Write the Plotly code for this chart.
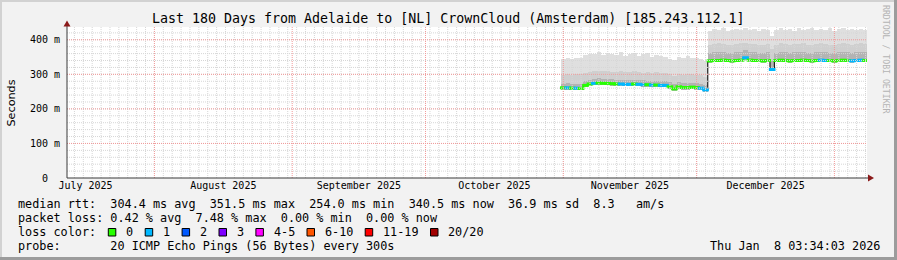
import plotly.graph_objects as go
import pandas as pd

# ---------------- data ----------------
TITLE = "Last 180 Days from Adelaide to [NL] CrownCloud (Amsterdam) [185.243.112.1]"
X_START = "2025-07-12 08:00"
X_END = "2026-01-08 08:00"
DATA_START = "2025-11-01"   # first daily sample (centre of the day bin)

median = [261, 261, 260, 260, 259, 268, 272, 274, 275, 274,
          274, 273, 272, 272, 271, 271, 272, 271, 270, 270,
          269, 269, 268, 268, 264, 258, 264, 262, 262, 263,
          262, 260, 255,
          339, 340, 340, 341, 340, 339, 340, 341, 348, 341,
          340, 340, 339, 340, 314, 340, 341, 340, 339, 340,
          340, 341, 340, 339, 340, 341, 340, 340, 339, 340,
          341, 340, 339, 340, 341, 340]

loss = [0, 1, 0, 1, 0, 0, 0, 1, 0, 0,
        0, 0, 0, 1, 1, 1, 0, 1, 1, 0,
        1, 0, 1, 1, 0, 0, 0, 0, 0, 0,
        0, 1, 1,
        0, 0, 0, 0, 0, 0, 0, 0, 1, 0,
        0, 0, 0, 0, 1, 0, 0, 0, 0, 0,
        0, 0, 0, 0, 0, 1, 1, 0, 0, 0,
        0, 0, 1, 1, 1, 0]

smoke_lo = [256, 255, 255, 254, 254, 262, 266, 268, 269, 268,
            268, 267, 266, 266, 265, 265, 266, 265, 264, 264,
            263, 263, 262, 262, 258, 252, 258, 256, 256, 257,
            256, 254, 249,
            334, 335, 335, 336, 335, 334, 335, 336, 342, 336,
            335, 335, 334, 335, 309, 335, 336, 335, 334, 335,
            335, 336, 335, 334, 335, 336, 335, 335, 334, 335,
            336, 335, 334, 335, 336, 335]

smoke_p75 = [273, 274, 272, 272, 271, 280, 285, 287, 288, 287,
             286, 286, 285, 284, 284, 283, 285, 284, 283, 282,
             281, 282, 280, 281, 277, 272, 277, 275, 276, 276,
             275, 273, 268,
             362, 364, 365, 366, 363, 362, 365, 366, 370, 365,
             364, 363, 362, 364, 340, 363, 366, 364, 362, 365,
             364, 366, 363, 362, 365, 366, 364, 363, 362, 365,
             366, 364, 362, 365, 366, 364]

smoke_p90 = [298, 300, 299, 301, 300, 305, 308, 310, 311, 309,
             310, 308, 307, 309, 306, 307, 309, 306, 305, 307,
             304, 306, 303, 305, 300, 296, 301, 299, 300, 302,
             299, 297, 292,
             384, 388, 390, 389, 386, 385, 388, 391, 392, 388,
             387, 385, 386, 388, 372, 386, 390, 388, 385, 389,
             387, 391, 386, 385, 389, 390, 388, 386, 385, 389,
             391, 388, 385, 389, 390, 387]

smoke_max = [344, 346, 343, 347, 348, 356, 360, 358, 364, 355,
             362, 359, 357, 365, 352, 360, 363, 354, 358, 361,
             350, 357, 353, 349, 345, 341, 350, 347, 352, 346,
             348, 345, 340,
             424, 430, 428, 433, 426, 429, 431, 427, 435, 428,
             432, 426, 430, 427, 410, 429, 434, 427, 431, 426,
             433, 428, 430, 435, 427, 431, 429, 433, 426, 430,
             434, 428, 432, 427, 431, 429]

y_ticks = [0, 100, 200, 300, 400]
y_tick_text = ["0", "100 m", "200 m", "300 m", "400 m"]
Y_MAX = 437

loss_labels = ["0", "1", "2", "3", "4-5", "6-10", "11-19", "20/20"]
loss_colors = ["#26ff00", "#00b8ff", "#0059ff", "#7e00ff", "#ff00ff", "#ff5500", "#ff0000", "#a10000"]
loss_upper = [0, 1, 2, 3, 5, 10, 19, 20]

row_rtt = "median rtt:  304.4 ms avg  351.5 ms max  254.0 ms min  340.5 ms now  36.9 ms sd  8.3   am/s"
row_loss = "packet loss: 0.42 % avg  7.48 % max  0.00 % min  0.00 % now"
row_color = "loss color:"
row_probe = "probe:       20 ICMP Echo Pings (56 Bytes) every 300s"
stamp = "Thu Jan  8 03:34:03 2026"
watermark = "RRDTOOL / TOBI OETIKER"

# ---------------- geometry / style ----------------
W, H = 897, 260
L, R, T, B = 67, 30, 27, 82
PW, PH = W - L - R, H - T - B
MONO = "DejaVu Sans Mono"
X_DAYS = (pd.Timestamp(X_END) - pd.Timestamp(X_START)).total_seconds() / 86400
DAY_PX = PW / X_DAYS


def px(xp):
    return (xp - L) / PW


def py(yp):
    return (H - B - yp) / PH


def nb(s):
    return s.replace(" ", "\u00a0")


def loss_color(n):
    for up, c in zip(loss_upper, loss_colors):
        if n <= up:
            return c
    return loss_colors[-1]


days = pd.date_range(DATA_START, periods=len(median), freq="D")
DAY_MS = 86400000

fig = go.Figure()


def band(lo, hi, color):
    fig.add_trace(go.Bar(x=days, base=lo, y=[h - l for h, l in zip(hi, lo)],
                         width=DAY_MS, marker=dict(color=color, line=dict(width=0)),
                         hoverinfo="skip", showlegend=False))


band(smoke_lo, smoke_max, "#dfdfdf")
band(smoke_lo, smoke_p90, "#cfcfcf")
band(smoke_lo, smoke_p75, "#b3b3b3")

fig.add_trace(go.Scatter(x=days, y=median, mode="lines", line=dict(color="#202020", width=1.2, shape="hvh"),
                         hoverinfo="skip", showlegend=False))

fig.add_trace(go.Scatter(x=days, y=median, mode="markers",
                         marker=dict(symbol="line-ew", size=DAY_PX + 0.3,
                                     line=dict(color=[loss_color(n) for n in loss], width=3)),
                         hoverinfo="skip", showlegend=False))

shapes = []
# grid (drawn above the data like rrdtool)
t0 = pd.Timestamp("2025-08-01")
xs, xe = pd.Timestamp(X_START), pd.Timestamp(X_END)
while t0 - pd.Timedelta(days=2) >= xs:
    t0 -= pd.Timedelta(days=2)
for t in pd.date_range(t0, xe, freq="2D"):
    shapes.append(dict(type="line", xref="x", yref="paper", x0=t, x1=t, y0=0, y1=1, layer="above",
                       line=dict(color="#d6d6d6", width=1, dash="1px,1px")))
for v in range(20, Y_MAX, 20):
    shapes.append(dict(type="line", xref="paper", yref="y", x0=0, x1=1, y0=v, y1=v, layer="above",
                       line=dict(color="#d6d6d6", width=1, dash="1px,1px")))
for t in pd.date_range("2025-08-01", xe, freq="MS"):
    shapes.append(dict(type="line", xref="x", yref="paper", x0=t, x1=t, y0=0, y1=1, layer="above",
                       line=dict(color="#f29a9a", width=1, dash="1px,1px")))
for v in y_ticks[1:]:
    shapes.append(dict(type="line", xref="paper", yref="y", x0=0, x1=1, y0=v, y1=v, layer="above",
                       line=dict(color="#f29a9a", width=1, dash="1px,1px")))

# axes and arrows
AX = "#3a3a3a"
ARROW = "#8b1a1a"
shapes.append(dict(type="line", xref="paper", yref="paper", x0=0, x1=0, y0=0, y1=py(24), layer="above",
                   line=dict(color=AX, width=1)))
shapes.append(dict(type="line", xref="paper", yref="paper", x0=0, x1=px(869), y0=0, y1=0, layer="above",
                   line=dict(color=AX, width=1)))
shapes.append(dict(type="path", xref="paper", yref="paper", layer="above",
                   path=f"M {px(63.5)} {py(26.5)} L {px(70.5)} {py(26.5)} L {px(67)} {py(20.5)} Z",
                   fillcolor=ARROW, line=dict(width=0)))
shapes.append(dict(type="path", xref="paper", yref="paper", layer="above",
                   path=f"M {px(868)} {py(174.5)} L {px(868)} {py(181.5)} L {px(874)} {py(178)} Z",
                   fillcolor=ARROW, line=dict(width=0)))

# 3D frame
shapes.append(dict(type="rect", xref="paper", yref="paper", x0=px(0), x1=px(W), y0=py(0), y1=py(2),
                   fillcolor="#d2d2d2", line=dict(width=0), layer="above"))
shapes.append(dict(type="rect", xref="paper", yref="paper", x0=px(0), x1=px(2), y0=py(0), y1=py(H),
                   fillcolor="#d2d2d2", line=dict(width=0), layer="above"))
shapes.append(dict(type="rect", xref="paper", yref="paper", x0=px(0), x1=px(W), y0=py(H - 3), y1=py(H),
                   fillcolor="#9c9c9c", line=dict(width=0), layer="above"))
shapes.append(dict(type="rect", xref="paper", yref="paper", x0=px(W - 3), x1=px(W), y0=py(0), y1=py(H),
                   fillcolor="#9c9c9c", line=dict(width=0), layer="above"))

annotations = []


def text(x, y, s, size=11.8, xanchor="left", font=MONO, color="#000000", angle=0):
    annotations.append(dict(x=px(x), y=py(y), xref="paper", yref="paper", text=nb(s), showarrow=False,
                            xanchor=xanchor, yanchor="middle", textangle=angle,
                            font=dict(family=font, size=size, color=color)))


text(448, 19, TITLE, size=13.3, xanchor="center")
text(16, 204.3, row_rtt)
text(16, 218.3, row_loss)
text(16, 232.3, row_color)
text(16, 246.3, row_probe)
text(882, 246.3, stamp, xanchor="right")
text(11, 102.5, "Seconds", size=11.2, xanchor="center", font="DejaVu Sans", angle=-90)
text(886, 59, watermark, size=8.2, xanchor="center", color="#b4b4b4", angle=90)

# loss colour legend
CH = 7.1
bx = 108.3
for lab, col in zip(loss_labels, loss_colors):
    shapes.append(dict(type="rect", xref="paper", yref="paper", x0=px(bx), x1=px(bx + 7.5),
                       y0=py(236), y1=py(228.5), fillcolor=col, line=dict(color="#000000", width=1),
                       layer="above"))
    text(bx + 15.7, 232.3, lab)
    bx += 15.7 + len(lab) * CH + 14.1

fig.update_layout(
    width=W, height=H, autosize=False,
    margin=dict(l=L, r=R, t=T, b=B, pad=0),
    paper_bgcolor="#f2f2f2", plot_bgcolor="#ffffff",
    barmode="overlay", bargap=0, showlegend=False,
    shapes=shapes, annotations=annotations,
    xaxis=dict(type="date", range=[X_START, X_END], showgrid=False, zeroline=False, showline=False,
               dtick="M1", tick0="2025-07-01", tickformat="%B %Y", ticklabelmode="period",
               ticks="", tickfont=dict(family=MONO, size=10, color="#000000"), fixedrange=True),
    yaxis=dict(range=[0, Y_MAX], showgrid=False, zeroline=False, showline=False,
               tickvals=y_ticks, ticktext=[nb(t if " " in t else t + "  ") for t in y_tick_text],
               ticks="", tickfont=dict(family=MONO, size=10, color="#000000"), fixedrange=True,
               ticklabelstandoff=6),
)

fig.write_html("out.html", config={"displayModeBar": False})
